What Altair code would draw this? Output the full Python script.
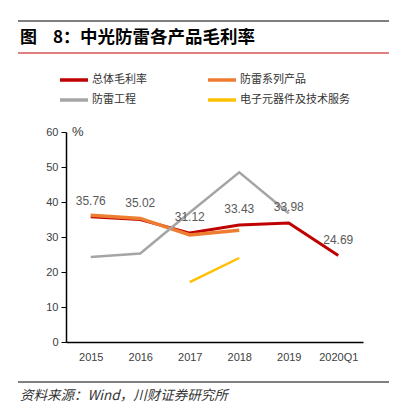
import altair as alt
import pandas as pd

years = ["2015", "2016", "2017", "2018", "2019", "2020Q1"]
series = ["总体毛利率", "防雷系列产品", "防雷工程", "电子元器件及技术服务"]
total = [35.76, 35.02, 31.12, 33.43, 33.98, 24.69]
products = [36.2, 35.3, 30.6, 31.9, None, None]
engineering = [24.3, 25.3, 37.0, 48.5, 36.8, None]
electronics = [None, None, 17.1, 24.0, None, None]
colors = ["#C00000", "#ED7D31", "#A5A5A5", "#FFC000"]
widths = [3, 3.5, 2.5, 2.5]
title_fig = "图"
title_num = "8："
title_b = "中光防雷各产品毛利率"
source = "资料来源：Wind，川财证券研究所"
y_ticks = [0, 10, 20, 30, 40, 50, 60]

values = [total, products, engineering, electronics]
rows = []
for s, vals in zip(series, values):
    for yr, v in zip(years, vals):
        if v is not None:
            rows.append({"series": s, "year": yr, "value": v})
df = pd.DataFrame(rows)

FONT = "Noto Sans CJK SC"
W, H = 297, 210

x_enc = alt.X("year:O", sort=years, scale=alt.Scale(type="point", padding=0.5),
              axis=alt.Axis(title=None, labelAngle=0, ticks=False, domainColor="#000000",
                            domainWidth=1.5, labelFontSize=11, labelColor="#404040",
                            labelPadding=9, labelFont="Liberation Sans"))
y_enc = alt.Y("value:Q", scale=alt.Scale(domain=[0, 60]),
              axis=alt.Axis(title=None, values=y_ticks, grid=False, tickSize=5,
                            tickColor="#000000", domainColor="#000000", domainWidth=1.5,
                            labelFontSize=11, labelColor="#404040", labelPadding=3,
                            labelOverlap=False, labelFont="Liberation Sans"))

layers = []
for s, c, w in zip(series, colors, widths):
    layers.append(
        alt.Chart(df[df.series == s]).mark_line(color=c, strokeWidth=w, strokeJoin="miter")
        .encode(x=x_enc, y=y_enc)
    )

labels = alt.Chart(df[df.series == series[0]]).mark_text(
    dy=-16, fontSize=12, color="#595959", font="Liberation Sans"
).encode(x=x_enc, y=y_enc, text=alt.Text("value:Q", format=".2f"))

# legend
leg = pd.DataFrame({
    "series": series,
    "x0": [-6 + 148 * (i % 2) for i in range(4)],
    "y0": [-52 + 20 * (i // 2) for i in range(4)],
})
leg["x1"] = leg["x0"] + 28
leg["xt"] = leg["x0"] + 32
leg_sym = alt.Chart(leg).mark_rule(strokeWidth=3.5).encode(
    x=alt.X("x0:Q", scale=None), x2="x1:Q", y=alt.Y("y0:Q", scale=None),
    color=alt.Color("series:N", scale=alt.Scale(domain=series, range=colors), legend=None))
leg_txt = alt.Chart(leg).mark_text(align="left", baseline="middle", fontSize=11,
                                   color="#333333", font=FONT).encode(
    x=alt.X("xt:Q", scale=None), y=alt.Y("y0:Q", scale=None), text="series:N")

deco = pd.DataFrame({"d": [0]})
base = alt.Chart(deco)
top_line = base.mark_rule(color="#000000", strokeWidth=1).encode(
    x=alt.value(-48), x2=alt.value(325), y=alt.value(-111))
red_line = base.mark_rule(color="#C00000", strokeWidth=1).encode(
    x=alt.value(-48), x2=alt.value(325), y=alt.value(-79))
bot_line = base.mark_rule(color="#000000", strokeWidth=1).encode(
    x=alt.value(-48), x2=alt.value(325), y=alt.value(250))
t0 = base.mark_text(text=title_fig, align="left", baseline="middle", fontSize=17,
                    fontWeight="bold", font=FONT, color="#000000").encode(
    x=alt.value(-46), y=alt.value(-94))
t1 = base.mark_text(text=title_num, align="left", baseline="middle", fontSize=17,
                    fontWeight="bold", font=FONT, color="#000000").encode(
    x=alt.value(-13), y=alt.value(-94))
t2 = base.mark_text(text=title_b, align="left", baseline="middle", fontSize=17.5,
                    fontWeight="bold", font=FONT, color="#000000").encode(
    x=alt.value(14), y=alt.value(-94))
pct = base.mark_text(text="%", align="left", baseline="middle", fontSize=13,
                     font="Liberation Sans", color="#333333").encode(
    x=alt.value(6), y=alt.value(0))
src = base.mark_text(text=source, align="left", baseline="middle", fontSize=13.5,
                     font=FONT, fontStyle="italic", color="#333333").encode(
    x=alt.value(-46), y=alt.value(264))

chart = alt.layer(*layers, labels, leg_sym, leg_txt, top_line, red_line, bot_line,
                  t0, t1, t2, pct, src).properties(
    width=W, height=H,
    autosize=alt.AutoSizeParams(type="none"),
    padding={"left": 58, "top": 124, "right": 26, "bottom": 64},
    background="white",
).configure_view(stroke=None)

chart.save("out.html", embed_options={"renderer": "svg", "actions": False})
